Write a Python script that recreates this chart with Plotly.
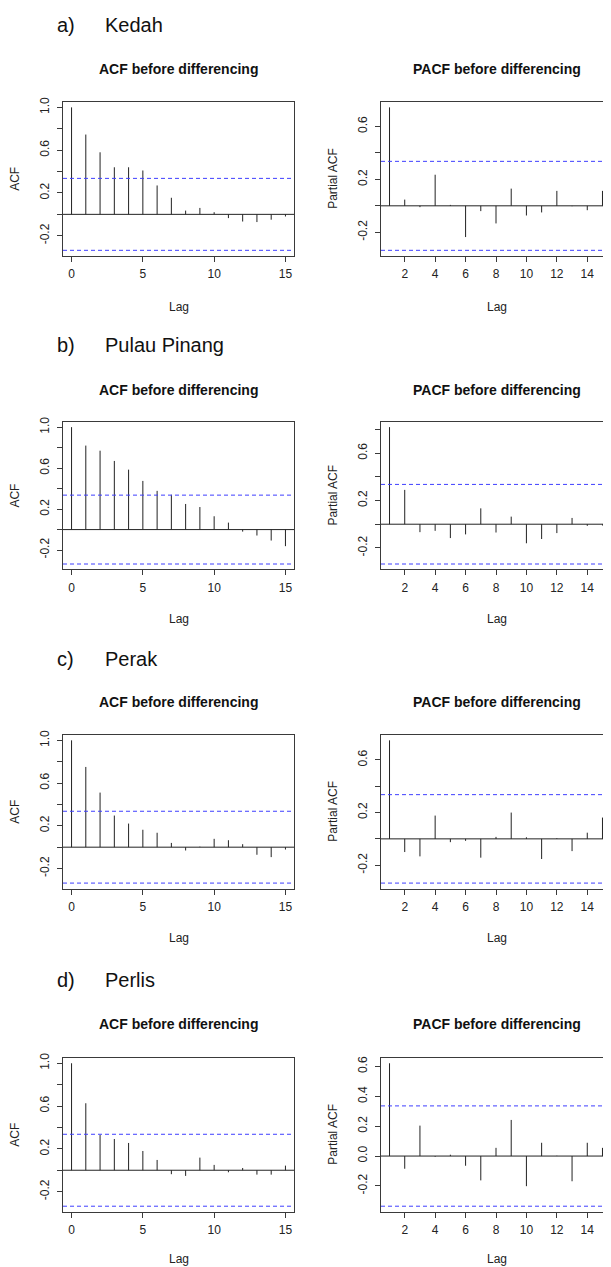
import math
import plotly.graph_objects as go

# ---------------- data ----------------
states = ["Kedah", "Pulau Pinang", "Perak", "Perlis"]
panel_letters = ["a)", "b)", "c)", "d)"]
n_obs = 34  # series length -> 95% bound 1.96/sqrt(n)

acf_lags = list(range(0, 16))
pacf_lags = list(range(1, 16))

kedah_acf = [1.0, 0.746, 0.58, 0.44, 0.44, 0.41, 0.27, 0.155, 0.035, 0.06, 0.02, -0.035, -0.067, -0.072, -0.05, -0.02]
kedah_pacf = [0.744, 0.047, -0.01, 0.235, 0.007, -0.236, -0.04, -0.133, 0.13, -0.073, -0.05, 0.113, -0.003, -0.033, 0.113]

pinang_acf = [1.0, 0.82, 0.77, 0.67, 0.585, 0.475, 0.378, 0.34, 0.25, 0.22, 0.13, 0.068, -0.02, -0.058, -0.107, -0.162]
pinang_pacf = [0.82, 0.29, -0.067, -0.056, -0.117, -0.086, 0.134, -0.07, 0.064, -0.161, -0.125, -0.075, 0.053, -0.014, -0.011]

perak_acf = [1.0, 0.751, 0.511, 0.296, 0.221, 0.163, 0.135, 0.04, -0.031, 0.005, 0.078, 0.065, 0.028, -0.071, -0.093, -0.022]
perak_pacf = [0.749, -0.1, -0.133, 0.177, -0.025, -0.015, -0.143, 0.015, 0.2, 0.012, -0.153, 0.005, -0.093, 0.047, 0.162]

perlis_acf = [1.0, 0.626, 0.33, 0.292, 0.255, 0.18, 0.096, -0.037, -0.053, 0.118, 0.05, -0.019, 0.021, -0.041, -0.041, 0.043]
perlis_pacf = [0.622, -0.085, 0.204, -0.005, 0.009, -0.065, -0.163, 0.055, 0.242, -0.202, 0.089, 0.002, -0.169, 0.089, 0.055]

acf_sets = [kedah_acf, pinang_acf, perak_acf, perlis_acf]
pacf_sets = [kedah_pacf, pinang_pacf, perak_pacf, perlis_pacf]

acf_xticks = [0, 5, 10, 15]
pacf_xticks = [2, 4, 6, 8, 10, 12, 14]

# ---------------- layout geometry (page pixels) ----------------
W, H = 611, 1267
OFF = 8                      # default page body margin
FW, FH = W - OFF, H - OFF    # figure size
FONT = "Liberation Sans, Arial, Helvetica, sans-serif"

acf_x = (63, 294)
pacf_x = (381, 612)
rows_y = [(97, 252), (418.3, 566.7), (732.5, 887.3), (1056.7, 1211.7)]
title_y = [64, 386.7, 700, 1023.3]
label_y = [20, 341.7, 656.7, 979.3]
lag_y = [303, 616, 937, 1259]


def px(x):
    return (x - OFF) / FW


def py(y):
    return 1 - (y - OFF) / FH


def r_range(lo, hi):
    pad = (hi - lo) * 0.04
    return [lo - pad, hi + pad]


ci = 1.96 / math.sqrt(n_obs)

fig = go.Figure()
annotations = []
shapes = []

AX_COLOR = "#3a3a3a"
SPIKE_COLOR = "#222222"
CI_COLOR = "#3f3fff"

idx = 0
for r in range(4):
    for kind in ("acf", "pacf"):
        idx += 1
        xa = "x" if idx == 1 else f"x{idx}"
        ya = "y" if idx == 1 else f"y{idx}"
        xkey = "xaxis" if idx == 1 else f"xaxis{idx}"
        ykey = "yaxis" if idx == 1 else f"yaxis{idx}"
        if kind == "acf":
            lags, vals = acf_lags, acf_sets[r]
            xr = r_range(0, 15)
            yr = r_range(min(-ci, min(vals)), 1.0)
            xdom = acf_x
            xt = acf_xticks
            title = "ACF before differencing"
            ytitle = "ACF"
            ytitle_x = 15
        else:
            lags, vals = pacf_lags, pacf_sets[r]
            xr = r_range(1, 15)
            yr = r_range(min(-ci, min(vals)), max(ci, max(vals)))
            xdom = pacf_x
            xt = pacf_xticks
            title = "PACF before differencing"
            ytitle = "Partial ACF"
            ytitle_x = 333

        # y ticks every 0.2 inside range
        yt = []
        k = math.ceil(yr[0] / 0.2 - 1e-9)
        while k * 0.2 <= yr[1] + 1e-9:
            yt.append(round(k * 0.2, 1))
            k += 1
        if kind == "pacf" and r == 3:
            ytext = [f"{v:.1f}" for v in yt]
        else:
            ytext = []
            for v in yt:
                t = round(v * 10)
                ytext.append(f"{v:.1f}" if t in (-2, 2, 6, 10) else "")

        sx, sy = [], []
        for l, v in zip(lags, vals):
            sx += [l, l, None]
            sy += [0, v, None]
        fig.add_trace(go.Scatter(x=sx, y=sy, mode="lines",
                                 line=dict(color=SPIKE_COLOR, width=1),
                                 xaxis=xa, yaxis=ya, showlegend=False,
                                 hoverinfo="skip"))

        y0, y1 = rows_y[r]
        fig.layout[xkey] = dict(
            domain=[px(xdom[0]), min(1.0, px(xdom[1]))], range=xr, anchor=ya,
            tickvals=xt, ticktext=[str(v) for v in xt], ticks="outside", ticklen=5,
            tickcolor=AX_COLOR, showline=True, linecolor=AX_COLOR, linewidth=1,
            mirror=True, showgrid=False, zeroline=False,
            tickfont=dict(family=FONT, size=12, color="#222"),
            ticklabelstandoff=2, fixedrange=True)
        fig.layout[ykey] = dict(
            domain=[py(y1), py(y0)], range=yr, anchor=xa,
            tickvals=yt, ticktext=ytext, ticks="outside", ticklen=5,
            tickcolor=AX_COLOR, showline=True, linecolor=AX_COLOR, linewidth=1,
            mirror=(kind == "acf"), showgrid=False, zeroline=False, tickangle=-90,
            tickfont=dict(family=FONT, size=12, color="#222"),
            ticklabelstandoff=3, fixedrange=True)

        # zero line and confidence bounds
        shapes.append(dict(type="line", xref=f"{xa} domain", yref=ya,
                           x0=0, x1=1, y0=0, y1=0,
                           line=dict(color=SPIKE_COLOR, width=1)))
        for c in (ci, -ci):
            shapes.append(dict(type="line", xref=f"{xa} domain", yref=ya,
                               x0=0, x1=1, y0=c, y1=c,
                               line=dict(color=CI_COLOR, width=1, dash="4px,3px")))

        cx = (xdom[0] + xdom[1]) / 2
        annotations.append(dict(text=f"<b>{title}</b>", x=px(cx), y=py(title_y[r]),
                                xref="paper", yref="paper", showarrow=False,
                                xanchor="center", yanchor="middle",
                                font=dict(family=FONT, size=14, color="#111")))
        annotations.append(dict(text="Lag", x=px(cx), y=py(lag_y[r]),
                                xref="paper", yref="paper", showarrow=False,
                                xanchor="center", yanchor="middle",
                                font=dict(family=FONT, size=12, color="#222")))
        annotations.append(dict(text=ytitle, x=px(ytitle_x), y=py((y0 + y1) / 2),
                                xref="paper", yref="paper", showarrow=False,
                                textangle=-90, xanchor="center", yanchor="middle",
                                font=dict(family=FONT, size=12, color="#222")))

    annotations.append(dict(text=panel_letters[r], x=px(55), y=py(label_y[r]),
                            xref="paper", yref="paper", showarrow=False,
                            xanchor="left", yanchor="middle",
                            font=dict(family=FONT, size=20, color="#111")))
    annotations.append(dict(text=states[r], x=px(103), y=py(label_y[r]),
                            xref="paper", yref="paper", showarrow=False,
                            xanchor="left", yanchor="middle",
                            font=dict(family=FONT, size=20, color="#111")))

fig.update_layout(width=FW, height=FH, margin=dict(l=0, r=0, t=0, b=0),
                  paper_bgcolor="white", plot_bgcolor="white",
                  annotations=annotations, shapes=shapes, showlegend=False)

fig.write_html("out.html", config={"displayModeBar": False})
